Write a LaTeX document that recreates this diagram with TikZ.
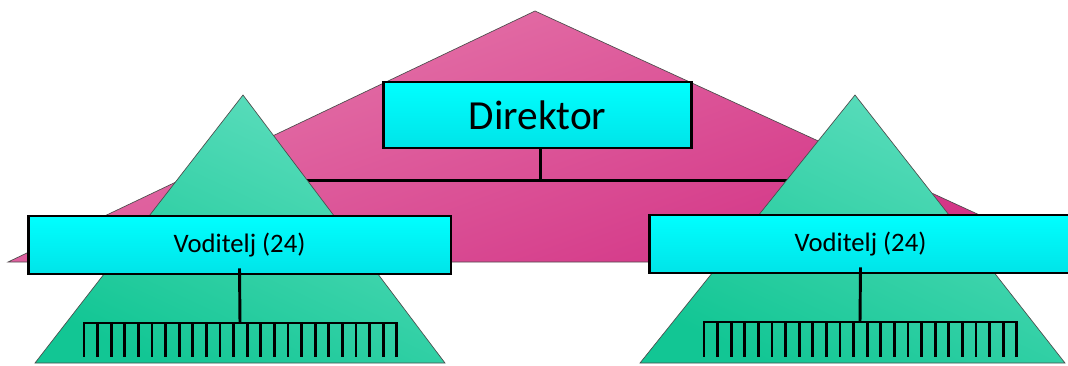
\documentclass[tikz,border=0pt]{standalone}
\usepackage{fontspec}
\setmainfont{Carlito}
\usetikzlibrary{positioning}
\pgfdeclarelayer{bg}
\pgfsetlayers{bg,main}

\begin{document}
\begin{tikzpicture}[x=0.75pt,y=-0.75pt]
        \tikzset{box/.style = {draw,line width=2pt,fill=cyan,inner sep=0pt}}
        \tikzset{wire/.style = {line width=2.2pt}}
        \tikzset{pyr/.style = {draw=black!70,line width=0.5pt}}
        \definecolor{pinktop}{RGB}{230,122,172}
        \definecolor{pinkbot}{RGB}{210,48,132}
        \definecolor{greentop}{RGB}{95,222,190}
        \definecolor{greenbot}{RGB}{18,198,148}
        \definecolor{cyanbot}{RGB}{0,228,232}
        \useasboundingbox (0,0) rectangle (1068,365);
        % boxes
        \node[box,top color=cyan,bottom color=cyanbot,minimum width=231pt,minimum height=49.5pt,font=\fontsize{31}{36}\selectfont] (dir) at (537.5,115) {Direktor};
        \node[box,top color=cyan,bottom color=cyanbot,minimum width=317pt,minimum height=43.5pt,font=\fontsize{20}{24}\selectfont] (vl) at (239.5,245) {Voditelj (24)};
        \node[box,top color=cyan,bottom color=cyanbot,minimum width=317pt,minimum height=43.5pt,font=\fontsize{20}{24}\selectfont] (vr) at (860.5,244) {Voditelj (24)};
        \begin{pgfonlayer}{bg}
        % pink pyramid
        \shade[pyr,top color=pinktop,bottom color=pinkbot,shading angle=20] (535,11) -- (1082,262) -- (8,262) -- cycle;
        % director to leaders
        \draw[wire] ([xshift=2pt]dir.south) ++(0,-3) -- ++(0,34) coordinate (hub);
        \draw[wire] (hub) -| (vl.north);
        \draw[wire] (hub) -| (vr.north);
        % green pyramids
        \shade[pyr,top color=greentop,bottom color=greenbot,shading angle=-25] (243,95) -- (445,363) -- (35,363) -- cycle;
        \shade[pyr,top color=greentop,bottom color=greenbot,shading angle=-25] (855,95) -- (1065,363) -- (640,363) -- cycle;
        \end{pgfonlayer}
        % teams
        \coordinate (tl) at (240,323);
        \coordinate (tr) at (860,322);
        \draw[wire] (vl.south) ++(0,-7) -- (tl);
        \draw[wire] (vr.south) ++(0,-7) -- (tr);
        \draw[wire] (84,323) -- (397,323);
        \draw[wire] (704,322) -- (1017,322);
        \foreach \i in {0,...,23}{
            \draw[wire] (84+\i*13.6,322) -- ++(0,35);
            \draw[wire] (704+\i*13.6,321) -- ++(0,36);
        }
\end{tikzpicture}
\end{document}
